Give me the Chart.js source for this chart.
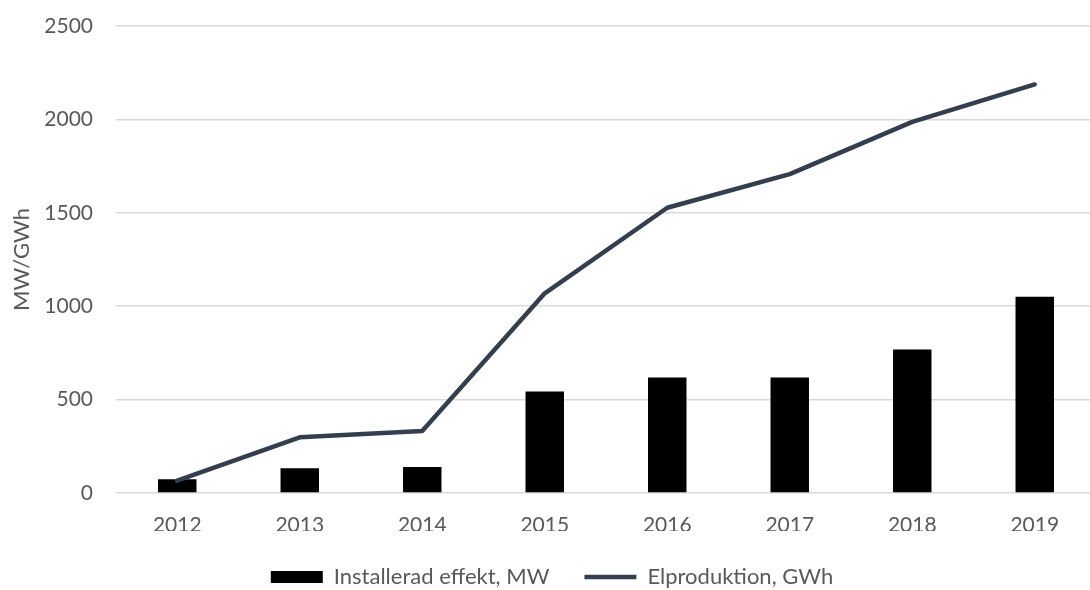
<!DOCTYPE html>
<html>
<head>
<meta charset="utf-8">
<script src="https://cdn.jsdelivr.net/npm/chart.js@4"></script>
<style>
  html, body { margin: 0; padding: 0; background: #fff; overflow: hidden; }
  /* a little taller than the window: the legend's bottom padding falls below the fold */
  #wrap { width: 1100px; height: 598px; }
</style>
</head>
<body>
<div id="wrap"><canvas id="chart"></canvas></div>
<script>
const years = ["2012", "2013", "2014", "2015", "2016", "2017", "2018", "2019"];
const effektMW = [73, 132, 139, 544, 618, 618, 768, 1050];
const elprodGWh = [66, 298, 332, 1069, 1527, 1707, 1987, 2187];
const yTicks = [0, 500, 1000, 1500, 2000, 2500];

const textColor = "#595959";
const gridColor = "#d9d9d9";
const tickFont = { family: "Lato", size: 21 };
const labelFont = { family: "Lato", size: 22 };

let chart = new Chart(document.getElementById("chart"), {
  data: {
    labels: years,
    datasets: [{
      type: "bar",
      label: "Installerad effekt, MW",
      data: effektMW,
      backgroundColor: "#000000",
      borderWidth: 0,
      pointStyle: "rect",
      categoryPercentage: 1,
      barPercentage: 0.314,
      order: 1
    }, {
      type: "line",
      label: "Elproduktion, GWh",
      data: elprodGWh,
      borderColor: "#333f4f",
      backgroundColor: "#333f4f",
      borderWidth: 4.5,
      borderCapStyle: "round",
      borderJoinStyle: "round",
      pointRadius: 0,
      pointStyle: "line",
      tension: 0,
      order: 0
    }]
  },
  options: {
    responsive: true,
    maintainAspectRatio: false,
    animation: false,
    layout: { padding: { left: 8, right: 4, top: 26, bottom: 0 } },
    plugins: {
      tooltip: { enabled: false },
      legend: {
        position: "bottom",
        labels: {
          font: labelFont,
          color: textColor,
          usePointStyle: true,
          pointStyleWidth: 52,
          boxHeight: 12,
          padding: 35,
          sort: (a, b) => a.datasetIndex - b.datasetIndex
        }
      }
    },
    scales: {
      x: {
        grid: { display: false, drawTicks: false },
        border: { display: false },
        afterFit: (scale) => { scale.height = 38; },
        ticks: { font: tickFont, color: textColor, padding: 20 }
      },
      y: {
        min: 0,
        max: 2500,
        afterBuildTicks: (scale) => {
          scale.ticks = yTicks.map(v => ({ value: v }));
        },
        afterFit: (scale) => {
          scale.width = 108;
          scale.paddingTop = 0;
          scale.paddingBottom = 0;
        },
        grid: { color: gridColor, lineWidth: 1.5, drawTicks: false },
        border: { display: false },
        ticks: {
          font: tickFont,
          color: textColor,
          padding: 23,
          callback: (v) => String(v)
        },
        title: {
          display: true,
          text: "MW/GWh",
          font: labelFont,
          color: textColor,
          padding: { top: 1, bottom: 4 }
        }
      }
    }
  }
});
</script>
</body>
</html>
